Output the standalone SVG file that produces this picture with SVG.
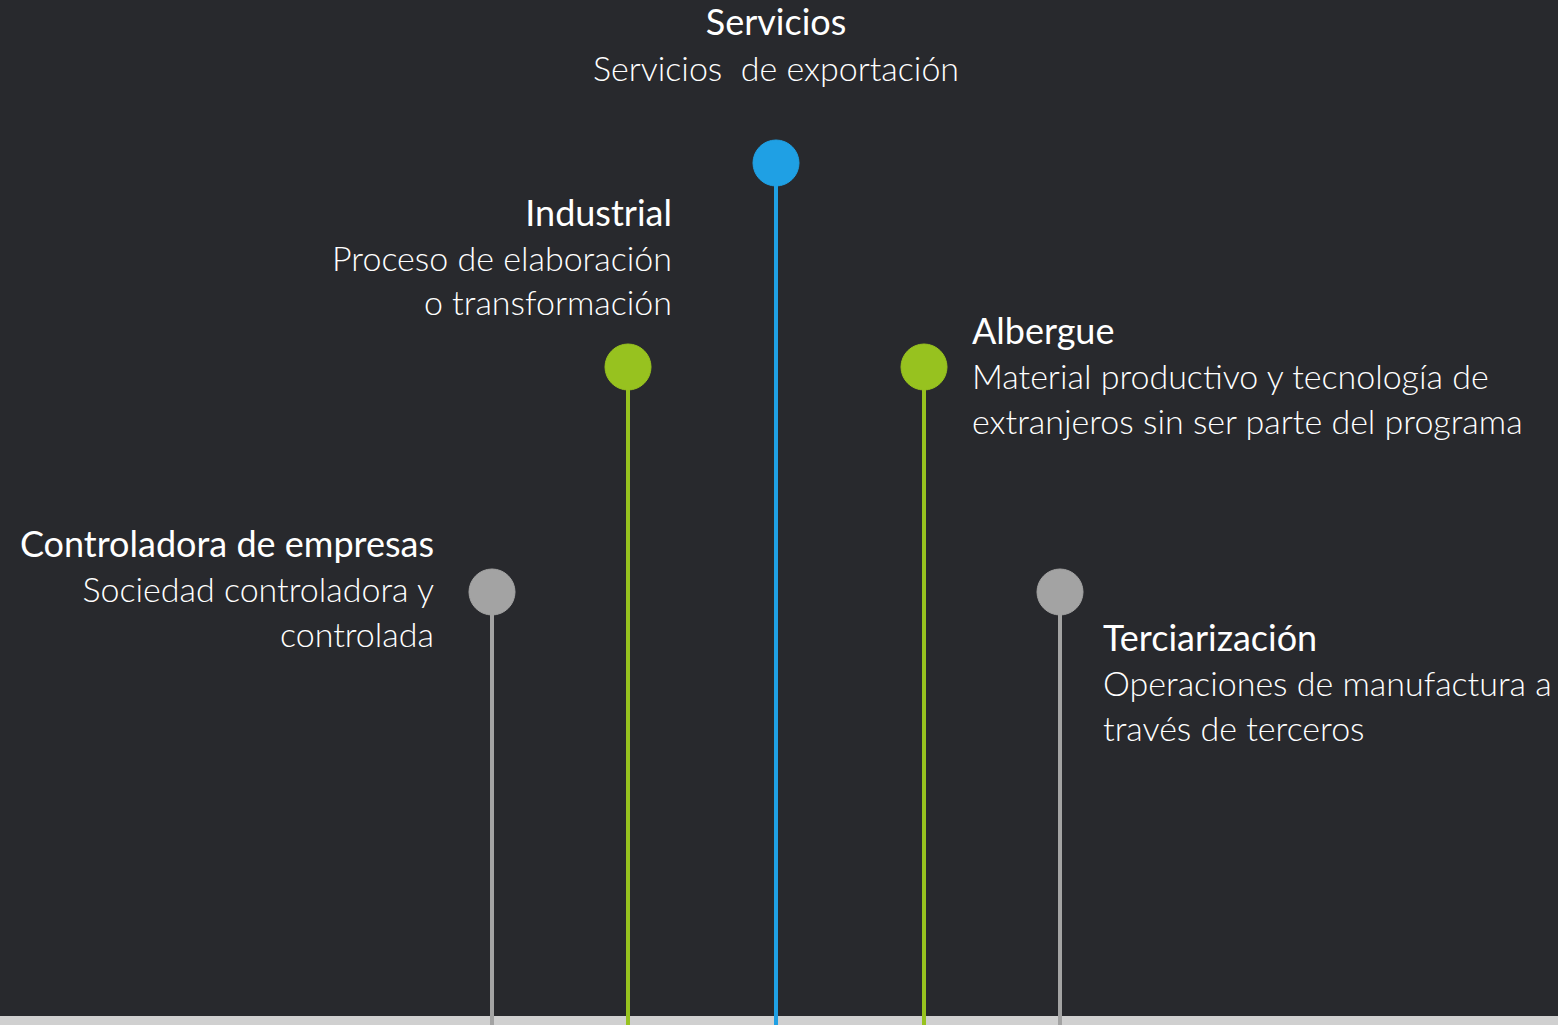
<svg xmlns="http://www.w3.org/2000/svg" width="1558" height="1025" viewBox="0 0 1558 1025">
  <style>
    .title { font-family: Lato, "Open Sans", "Liberation Sans", sans-serif; font-size: 36px; font-weight: 400; fill: #ffffff; }
    .desc { font-family: Lato, "Open Sans", "Liberation Sans", sans-serif; font-size: 34px; font-weight: 300; fill: #ffffff; }
    .stem { stroke-width: 4; fill: none; }
    .blue { fill: #1fa0e4; stroke: #1fa0e4; }
    .green { fill: #97c21f; stroke: #97c21f; }
    .gray { fill: #a3a3a3; stroke: #a3a3a3; }
    .end { text-anchor: end; }
    .mid { text-anchor: middle; }
  </style>
  <rect width="1558" height="1025" fill="#28292d"/>
  <rect x="0" y="1016" width="1558" height="9" fill="#d0d0d0"/>

  <g id="connectors">
    <line class="stem blue" x1="776" y1="163" x2="776" y2="1025"/>
    <line class="stem green" x1="628" y1="367" x2="628" y2="1025"/>
    <line class="stem green" x1="924" y1="367" x2="924" y2="1025"/>
    <line class="stem gray" x1="492" y1="592" x2="492" y2="1025"/>
    <line class="stem gray" x1="1060" y1="592" x2="1060" y2="1025"/>
  </g>

  <g id="servicios">
    <circle class="blue" cx="776" cy="163" r="23"/>
    <text class="title mid" x="776" y="35">Servicios</text>
    <text class="desc mid" x="776" y="81" xml:space="preserve">Servicios  de exportación</text>
  </g>

  <g id="industrial">
    <circle class="green" cx="628" cy="367" r="23"/>
    <text class="title end" x="672" y="226">Industrial</text>
    <text class="desc end" x="672" y="271">Proceso de elaboración</text>
    <text class="desc end" x="672" y="315">o transformación</text>
  </g>

  <g id="albergue">
    <circle class="green" cx="924" cy="367" r="23"/>
    <text class="title" x="972" y="344">Albergue</text>
    <text class="desc" x="972" y="389">Material productivo y tecnología de</text>
    <text class="desc" x="972" y="434">extranjeros sin ser parte del programa</text>
  </g>

  <g id="controladora">
    <circle class="gray" cx="492" cy="592" r="23"/>
    <text class="title end" x="434" y="557">Controladora de empresas</text>
    <text class="desc end" x="434" y="602">Sociedad controladora y</text>
    <text class="desc end" x="434" y="647">controlada</text>
  </g>

  <g id="terciarizacion">
    <circle class="gray" cx="1060" cy="592" r="23"/>
    <text class="title" x="1103" y="651">Terciarización</text>
    <text class="desc" x="1103" y="696">Operaciones de manufactura a</text>
    <text class="desc" x="1103" y="741">través de terceros</text>
  </g>
</svg>
